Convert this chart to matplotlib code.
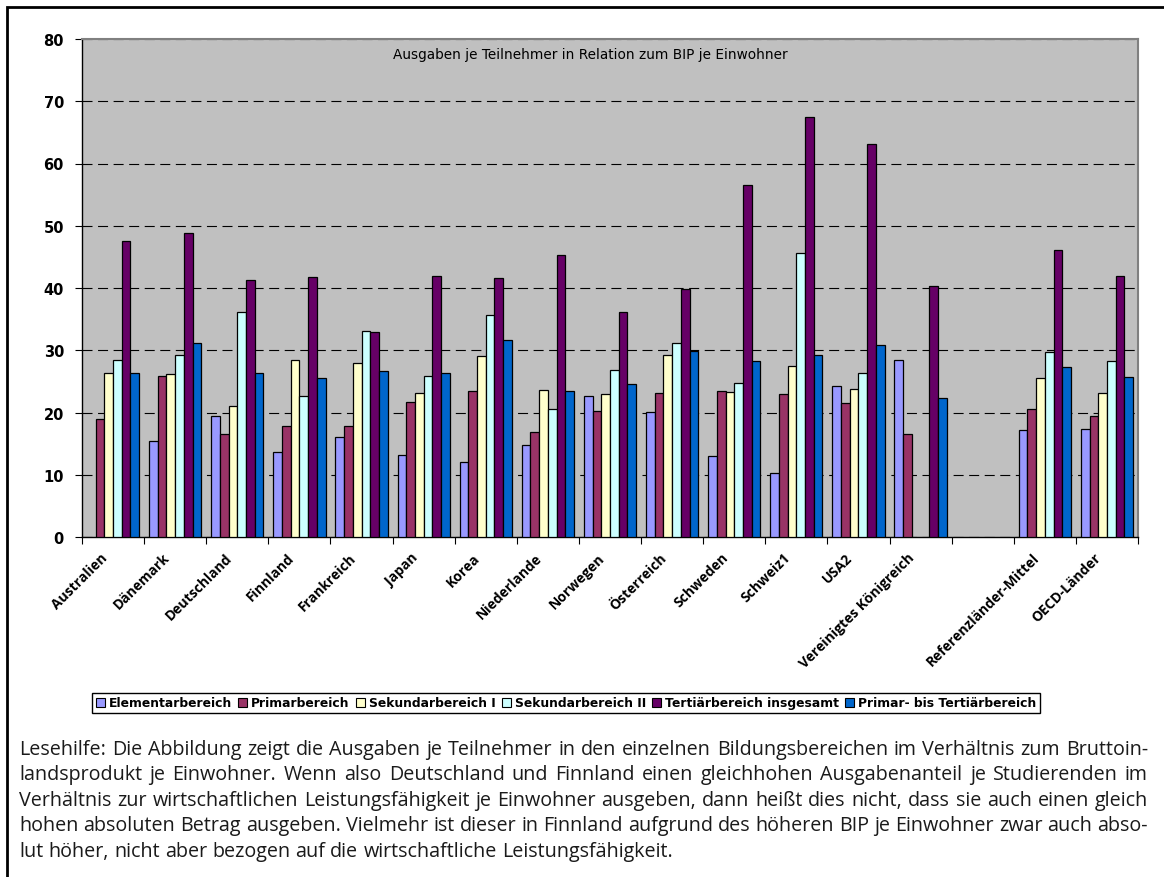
import numpy as np
import matplotlib
matplotlib.use('Agg')
import matplotlib.pyplot as plt
from matplotlib.patches import Rectangle, Patch
from matplotlib.transforms import ScaledTranslation

countries = ['Australien', 'Dänemark', 'Deutschland', 'Finnland', 'Frankreich', 'Japan',
             'Korea', 'Niederlande', 'Norwegen', 'Österreich', 'Schweden', 'Schweiz1', 'USA2',
             'Vereinigtes Königreich', '', 'Referenzländer-Mittel', 'OECD-Länder']

series = ['Elementarbereich', 'Primarbereich', 'Sekundarbereich I', 'Sekundarbereich II',
          'Tertiärbereich insgesamt', 'Primar- bis Tertiärbereich']
colors = ['#9999FF', '#993366', '#FFFFCC', '#CCFFFF', '#660066', '#0066CC']

nan = np.nan
elementar = [nan, 15.5, 19.5, 13.7, 16.1, 13.1, 12.0, 14.8, 22.6, 20.1, 13.0, 10.3, 24.2, 28.4, nan, 17.2, 17.4]
primar = [19.0, 25.9, 16.6, 17.9, 17.8, 21.7, 23.4, 16.9, 20.2, 23.2, 23.5, 22.9, 21.5, 16.6, nan, 20.5, 19.5]
sek1 = [26.4, 26.2, 21.1, 28.5, 27.9, 23.1, 29.0, 23.6, 22.9, 29.3, 23.3, 27.4, 23.8, nan, nan, 25.6, 23.1]
sek2 = [28.4, 29.2, 36.2, 22.6, 33.1, 25.8, 35.7, 20.6, 26.9, 31.2, 24.7, 45.6, 26.4, nan, nan, 29.7, 28.3]
tertiaer = [47.6, 48.9, 41.3, 41.7, 32.9, 41.9, 41.6, 45.3, 36.1, 39.9, 56.5, 67.4, 63.2, 40.3, nan, 46.1, 41.9]
gesamt = [26.4, 31.1, 26.3, 25.6, 26.6, 26.4, 31.7, 23.4, 24.6, 29.8, 28.3, 29.3, 30.9, 22.4, nan, 27.3, 25.7]

title = 'Ausgaben je Teilnehmer in Relation zum BIP je Einwohner'
caption = [
    'Lesehilfe: Die Abbildung zeigt die Ausgaben je Teilnehmer in den einzelnen Bildungsbereichen im Verhältnis zum Bruttoin-',
    'landsprodukt je Einwohner. Wenn also Deutschland und Finnland einen gleichhohen Ausgabenanteil je Studierenden im',
    'Verhältnis zur wirtschaftlichen Leistungsfähigkeit je Einwohner ausgeben, dann heißt dies nicht, dass sie auch einen gleich',
    'hohen absoluten Betrag ausgeben. Vielmehr ist dieser in Finnland aufgrund des höheren BIP je Einwohner zwar auch abso-',
    'lut höher, nicht aber bezogen auf die wirtschaftliche Leistungsfähigkeit.',
]

W, H = 1164, 878
fig = plt.figure(figsize=(W / 100, H / 100), dpi=100)
fig.patch.set_facecolor('white')

# frame around the whole thing (runs off right/bottom edge)
fig.add_artist(Rectangle((7 / W, -0.1), 1.2, 1 - 8 / H + 0.1, transform=fig.transFigure,
                         fill=False, edgecolor='black', lw=2))

ax = fig.add_axes([82 / W, 1 - 538 / H, (1138 - 82) / W, (538 - 40) / H])
ax.set_facecolor('#C0C0C0')

data = [elementar, primar, sek1, sek2, tertiaer, gesamt]
x = np.arange(len(countries)) + 0.5
w = 0.14
for j, vals in enumerate(data):
    vals = np.array(vals, dtype=float)
    ok = ~np.isnan(vals)
    ax.bar(x[ok] + (j - 2.5) * w, vals[ok], width=w, color=colors[j],
           edgecolor='black', linewidth=0.9, zorder=3)

ax.set_xlim(0, len(countries))
ax.set_ylim(0, 80)
ax.set_yticks(range(0, 81, 10))
ax.set_yticklabels([str(v) for v in range(0, 81, 10)], fontsize=10.5, fontweight='bold')
ax.yaxis.grid(True, linestyle=(0, (9, 5)), color='black', lw=0.8, zorder=1)
ax.tick_params(axis='y', length=5, width=0.8, pad=8)

ax.set_xticks(x)
ax.set_xticklabels(countries, rotation=45, ha='right', va='center', rotation_mode='anchor',
                   fontsize=10, fontweight='bold', family='Open Sans')
ax.set_xticks(np.arange(len(countries) + 1), minor=True)
ax.tick_params(axis='x', which='major', length=0, pad=13)
ax.tick_params(axis='x', which='minor', length=5, width=0.8)
shift = ScaledTranslation(-0.08, 0, fig.dpi_scale_trans)
for lab in ax.get_xticklabels():
    lab.set_transform(lab.get_transform() + shift)

for s in ['left', 'bottom']:
    ax.spines[s].set_color('black')
    ax.spines[s].set_linewidth(1)
for s in ['top', 'right']:
    ax.spines[s].set_color('#808080')
    ax.spines[s].set_linewidth(1.5)

ax.text((590 - 82) / 1056, (538 - 55) / 498, title, transform=ax.transAxes,
        ha='center', va='center', fontsize=9.8)

handles = [Patch(facecolor=c, edgecolor='black', lw=0.8) for c in colors]
leg = fig.legend(handles, series, loc='center', bbox_to_anchor=(566 / W, 1 - 704 / H), ncol=6,
                 fancybox=False, edgecolor='black', framealpha=1, handlelength=0.75,
                 handleheight=0.75, handletextpad=0.3, columnspacing=0.5, borderpad=0.3,
                 prop={'weight': 'bold', 'size': 8.9})
leg.get_frame().set_linewidth(1)

# justified caption text, font size fitted to the longest line
renderer = fig.canvas.get_renderer()
x0, x1 = 19, 1148
ys = [755, 780, 806, 831, 857]
cap_family = 'Open Sans'
probe = fig.text(0, 0, caption[2], family=cap_family, fontsize=10)
fs = 10 * (x1 - x0 - 8) / probe.get_window_extent(renderer).width
probe.remove()
cap_font = dict(family=cap_family, fontsize=fs, color='#1a1a1a')
space_w = (fig.text(0, 0, 'a a', **cap_font).get_window_extent(renderer).width
           - fig.text(0, 0, 'aa', **cap_font).get_window_extent(renderer).width)
for t in fig.texts[-2:]:
    t.remove()
for k, line in enumerate(caption):
    words = line.split(' ')
    widths = [fig.text(0, 0, wd, **cap_font).get_window_extent(renderer).width for wd in words]
    for t in fig.texts[-len(words):]:
        t.remove()
    if k < len(caption) - 1:
        gap = (x1 - x0 - sum(widths)) / (len(words) - 1)
    else:
        gap = space_w
    pos = x0
    for wd, ww in zip(words, widths):
        fig.text(pos / W, 1 - ys[k] / H, wd, va='baseline', ha='left', **cap_font)
        pos += ww + gap

fig.savefig('out.png', dpi=100)
